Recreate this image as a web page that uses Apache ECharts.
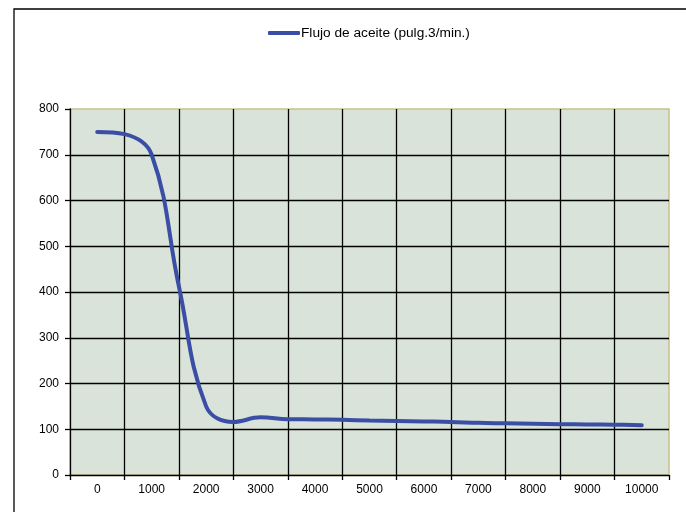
<!DOCTYPE html>
<html>
<head>
<meta charset="utf-8">
<script src="https://cdn.jsdelivr.net/npm/echarts@6/dist/echarts.min.js"></script>
<style>
html,body{margin:0;padding:0;background:#fff;}
#c{width:686px;height:512px;}
</style>
</head>
<body>
<div id="c"></div>
<script>
// Category labels on the x axis
var categories = ['0','1000','2000','3000','4000','5000','6000','7000','8000','9000','10000'];
// Curve sample positions (pulg.3/min. read every 500 units)
var flowX = [0,500,1000,1500,2000,2500,3000,3500,4000,4500,5000,5500,6000,6500,7000,7500,8000,8500,9000,9500,10000];
var flowY = [750,745,700,412,150,116,126,122,121.5,120.5,119,118,117,116,114,113,112,111,110.5,110,109];
var seriesName = 'Flujo de aceite (pulg.3/min.)';
var yTicks = {min:0, max:800, step:100};
// x extent: half a category step either side of the first/last category
var xRange = {min:-500, max:10500, step:1000};

var data = flowX.map(function(x,i){return [x, flowY[i]];});
var font = "'Liberation Sans', Arial, sans-serif";
var chart = echarts.init(document.getElementById('c'), null, {renderer:'canvas'});
chart.setOption({
  animation:false,
  backgroundColor:'#ffffff',
  textStyle:{fontFamily:font},
  graphic:[{
    type:'polyline',
    shape:{points:[[14,512],[14,9],[686,9]]},
    style:{stroke:'#000',lineWidth:1.3,fill:null},
    silent:true
  }],
  legend:{
    left:263, top:21,
    icon:'roundRect',
    itemWidth:32, itemHeight:4,
    itemGap:10,
    textStyle:{fontFamily:font,fontSize:13.7,color:'#000',padding:[0,0,0,-4]},
    data:[{name:seriesName}]
  },
  grid:{
    left:70, top:109, right:17, bottom:37,
    show:true, backgroundColor:'#d9e3d9',
    borderColor:'#c9c18a', borderWidth:1.5
  },
  xAxis:[{
    type:'value',
    min:xRange.min, max:xRange.max, interval:xRange.step,
    axisLine:{show:true,onZero:false,lineStyle:{color:'#000',width:1.3}},
    axisTick:{show:true,length:5,lineStyle:{color:'#000',width:1.3}},
    axisLabel:{show:false},
    splitLine:{show:true,showMinLine:false,showMaxLine:false,lineStyle:{color:'#000',width:1.3}}
  },{
    type:'category',
    data:categories,
    boundaryGap:true,
    position:'bottom',
    axisLine:{show:false,onZero:false},
    axisTick:{show:false},
    axisLabel:{color:'#000',fontSize:12,fontFamily:font,margin:9,interval:0},
    splitLine:{show:false},
    splitArea:{show:false}
  }],
  yAxis:{
    type:'value',
    min:yTicks.min, max:yTicks.max, interval:yTicks.step,
    axisLine:{show:true,onZero:false,lineStyle:{color:'#000',width:1.3}},
    axisTick:{show:true,length:5,lineStyle:{color:'#000',width:1.3}},
    axisLabel:{color:'#000',fontSize:12,fontFamily:font,margin:11},
    splitLine:{show:true,showMinLine:false,showMaxLine:false,lineStyle:{color:'#000',width:1.3}}
  },
  series:[{
    name:seriesName,
    type:'line',
    xAxisIndex:0,
    data:data,
    smooth:0.4,
    symbol:'none',
    lineStyle:{color:'#3a4ea5',width:4,cap:'round'},
    itemStyle:{color:'#3a4ea5'}
  }]
});
</script>
</body>
</html>
